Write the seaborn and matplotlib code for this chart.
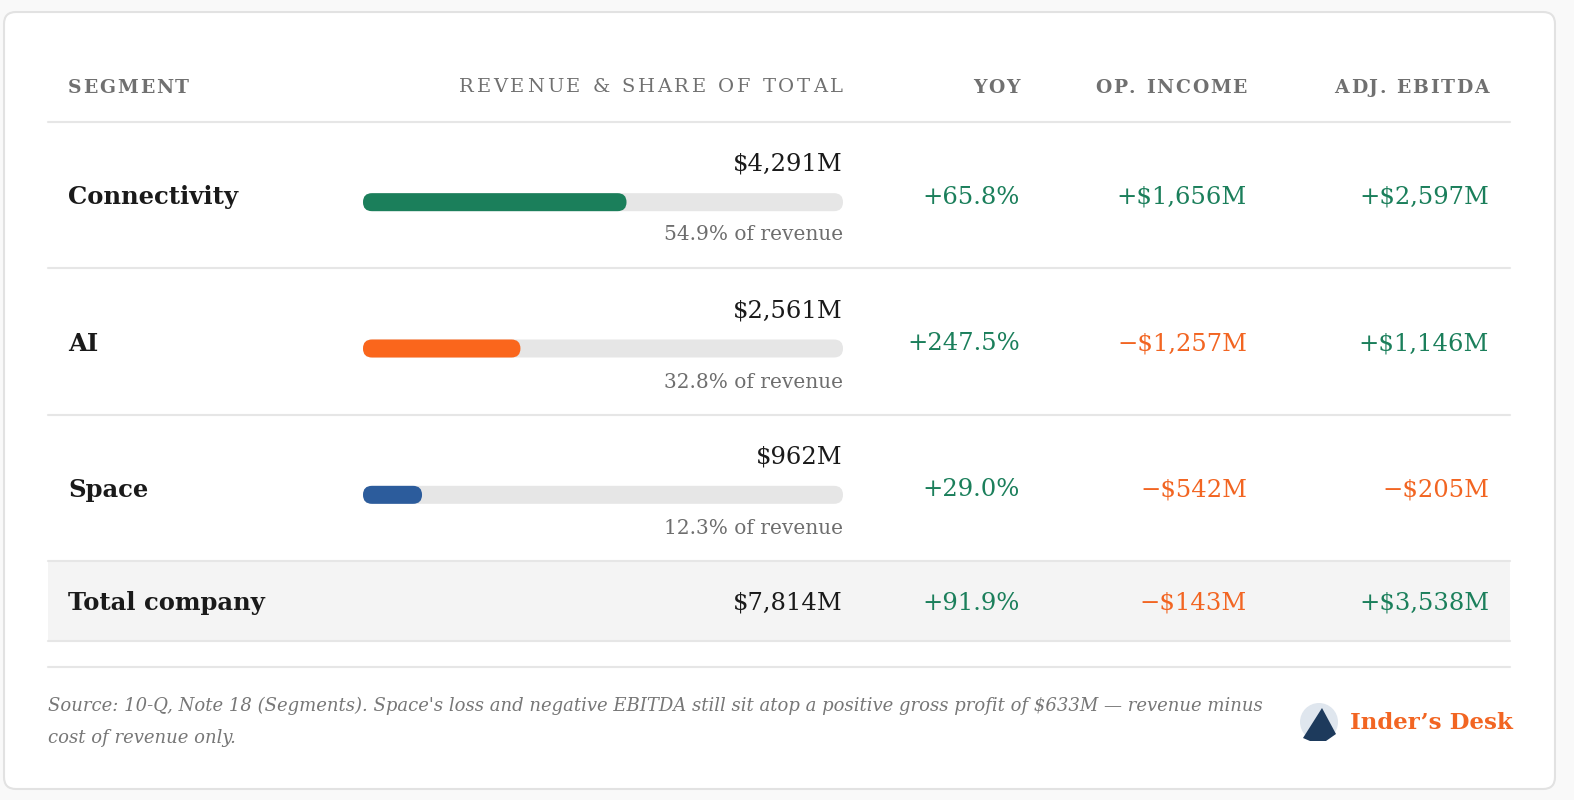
import numpy as np
import pandas as pd
import seaborn as sns
import matplotlib.pyplot as plt
from matplotlib.patches import FancyBboxPatch, Rectangle

# datos de la tabla
segmentos = ["Connectivity", "AI", "Space"]
ingresos = ["$4,291M", "$2,561M", "$962M"]
participacion = [54.9, 32.8, 12.3]
yoy = ["+65.8%", "+247.5%", "+29.0%"]
op_income = ["+$1,656M", "\u2212$1,257M", "\u2212$542M"]
ebitda = ["+$2,597M", "+$1,146M", "\u2212$205M"]
colores_barra = ["#1b7f5b", "#fa661c", "#2c5c9c"]

total_nombre = "Total company"
total_ingresos = "$7,814M"
total_yoy = "+91.9%"
total_op = "\u2212$143M"
total_ebitda = "+$3,538M"

encabezados = ["SEGMENT", "REVENUE & SHARE OF TOTAL", "YOY", "OP. INCOME", "ADJ. EBITDA"]
nota = ("Source: 10-Q, Note 18 (Segments). Space's loss and negative EBITDA still sit atop a positive gross profit of $633M \u2014 revenue minus\n"
        "cost of revenue only.")
marca = "Inder\u2019s Desk"

VERDE = "#1b7f5b"
NARANJA = "#f26522"
TINTA = "#1a1a1a"
GRIS = "#707070"
LINEA = "#e6e6e6"

sns.set_theme(style="white")
plt.rcParams['font.family'] = ['DejaVu Serif', 'DejaVu Sans']

W, H = 1574, 800
fig = plt.figure(figsize=(W / 100, H / 100), dpi=100, facecolor="#f9f9f9")
ax = fig.add_axes([0, 0, 1, 1])
ax.set_xlim(0, W)
ax.set_ylim(H, 0)
ax.axis("off")
renderer = fig.canvas.get_renderer()


def texto_espaciado(x, y, s, extra, ha="left", **kw):
    # dibuja letra a letra para imitar el letter-spacing del encabezado
    anchos = []
    for c in s:
        t = ax.text(0, 0, c if c != " " else "n", **kw)
        bb = t.get_window_extent(renderer)
        anchos.append(bb.width * (0.5 if c == " " else 1.0))
        t.remove()
    total = sum(anchos) + extra * (len(s) - 1)
    xi = x - total if ha == "right" else x
    for c, w in zip(s, anchos):
        if c != " ":
            ax.text(xi, y, c, ha="left", va="center", **kw)
        xi += w + extra


# tarjeta
ax.add_patch(FancyBboxPatch((4, 12), 1551, 777, boxstyle="round,pad=0,rounding_size=12",
                            fc="white", ec="#e2e2e2", lw=1.5))

# encabezado
x_cols = [68, 843, 1020, 1247, 1489]
alin = ["left", "right", "right", "right", "right"]
for txt, x, ha in zip(encabezados, x_cols, alin):
    if txt == encabezados[1]:
        texto_espaciado(x, 87, txt, 2.8, ha=ha, fontsize=14, color=GRIS, fontweight="normal")
    else:
        texto_espaciado(x, 88, txt, 1.8, ha=ha, fontsize=13.5, color=GRIS, fontweight="bold")

# lineas
for y in [122, 268, 415]:
    ax.plot([48, 1510], [y, y], color=LINEA, lw=1.5)
ax.add_patch(Rectangle((48, 561), 1462, 80, fc="#f4f4f4", ec="none"))
for y in [561, 641, 667]:
    ax.plot([48, 1510], [y, y], color=LINEA, lw=1.5)

# filas
fila_y = [197, 344, 490]
for i, y in enumerate(fila_y):
    ax.text(68, y, segmentos[i], ha="left", va="center", fontsize=17.5, fontweight="bold", color=TINTA)
    ax.text(843, y - 33, ingresos[i], ha="right", va="center", fontsize=17.5, color=TINTA)
    ax.text(843, y + 38, f"{participacion[i]:.1f}% of revenue", ha="right", va="center",
            fontsize=14.5, color="#6e6e6e")
    ax.text(1020, y, yoy[i], ha="right", va="center", fontsize=17.5, color=VERDE)
    ax.text(1247, y, op_income[i], ha="right", va="center", fontsize=17.5,
            color=VERDE if op_income[i].startswith("+") else NARANJA)
    ax.text(1489, y, ebitda[i], ha="right", va="center", fontsize=17.5,
            color=VERDE if ebitda[i].startswith("+") else NARANJA)

# total
ty = 603
ax.text(68, ty, total_nombre, ha="left", va="center", fontsize=17.5, fontweight="bold", color=TINTA)
ax.text(843, ty, total_ingresos, ha="right", va="center", fontsize=17.5, color=TINTA)
ax.text(1020, ty, total_yoy, ha="right", va="center", fontsize=17.5, color=VERDE)
ax.text(1247, ty, total_op, ha="right", va="center", fontsize=17.5, color=NARANJA)
ax.text(1489, ty, total_ebitda, ha="right", va="center", fontsize=17.5, color=VERDE)

# nota y marca
ax.text(48, 722, nota, ha="left", va="center", fontsize=13, style="italic", color="#777777",
        linespacing=2.05)
ax.add_patch(plt.Circle((1319, 722), 19, fc="#dfe6ee", ec="none"))
ax.add_patch(plt.Polygon([[1303, 738], [1322, 708], [1336, 734], [1326, 741], [1310, 741]],
                         fc="#1d3a5c", ec="none"))
ax.text(1350, 723, marca, ha="left", va="center", fontsize=16.5, fontweight="bold", color="#f26522")

# barras de participacion (seaborn)
px_izq, px_der = 363, 843
y_arriba, y_abajo = 129, 568
bax = fig.add_axes([px_izq / W, 1 - y_abajo / H, (px_der - px_izq) / W, (y_abajo - y_arriba) / H])
df = pd.DataFrame({"segmento": segmentos, "share": participacion, "pista": [100.0] * 3})
ancho = 18 / ((y_abajo - y_arriba) / 3)
sns.barplot(data=df, x="pista", y="segmento", orient="h", color="#e6e6e6", width=ancho,
            saturation=1, ax=bax)
sns.barplot(data=df, x="share", y="segmento", orient="h", hue="segmento", palette=colores_barra,
            width=ancho, saturation=1, legend=False, ax=bax)
bax.set_xlim(0, 100)
bax.set_ylim(2.5, -0.5)
bax.axis("off")

px_x = (px_der - px_izq) / 100
px_y = (y_abajo - y_arriba) / 3
asp = px_x / px_y
for p in list(bax.patches):
    x0, y0, w, h = p.get_x(), p.get_y(), p.get_width(), p.get_height()
    r = 9 / px_x
    bax.add_patch(FancyBboxPatch((x0, y0), w, h, boxstyle=f"round,pad=0,rounding_size={r}",
                                 mutation_aspect=asp, fc=p.get_facecolor(), ec="none"))
    p.set_visible(False)

fig.savefig("out.png", dpi=100, facecolor=fig.get_facecolor())
